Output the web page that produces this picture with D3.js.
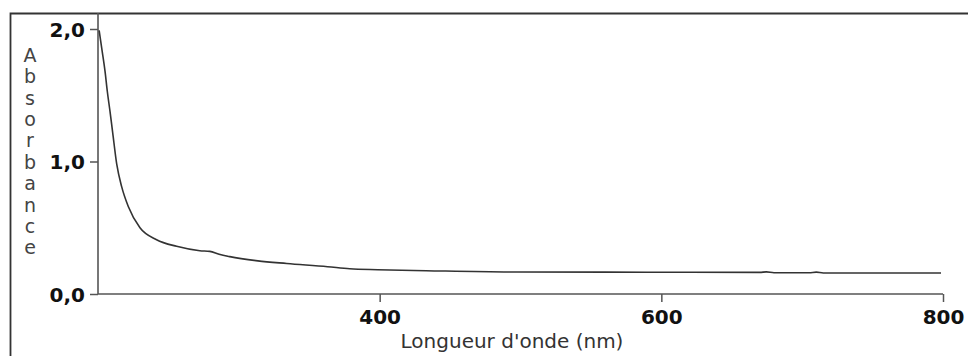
<!DOCTYPE html>
<html>
<head>
<meta charset="utf-8">
<script src="https://cdn.jsdelivr.net/npm/d3@7"></script>
<style>
  html, body { margin: 0; padding: 0; background: #fff; }
  svg { display: block; }
</style>
</head>
<body>
<svg id="chart" width="968" height="356"></svg>
<script>
// Data
const wavelengths = [200.8, 203.0, 205.0, 206.6, 208.5, 210.4, 213.3, 216.8, 221.5, 229.8, 241.6, 255.8, 272.3, 279.4, 286, 293.6, 313.5, 334, 363, 378.7, 398.6, 433, 497.9, 560, 620, 670, 674.5, 680, 705, 710, 715, 760, 798.6];
const absorbance  = [1.99, 1.83, 1.68, 1.53, 1.38, 1.22, 0.98, 0.81, 0.66, 0.50, 0.41, 0.36, 0.327, 0.322, 0.30, 0.282, 0.25, 0.23, 0.206, 0.19, 0.183, 0.176, 0.166, 0.165, 0.164, 0.163, 0.167, 0.160, 0.160, 0.165, 0.159, 0.159, 0.158];
const xTicks = [400, 600, 800];
const yTicks = [0, 1, 2];
const xTitle = "Longueur d'onde (nm)";
const yTitle = "Absorbance";

const svg = d3.select("#chart");

// frame (left + top)
svg.append("path")
  .attr("d", "M10.5,356 L10.5,13.5 L968,13.5")
  .attr("fill", "none").attr("stroke", "#333").attr("stroke-width", 1.8);

const x = d3.scaleLinear().domain([200, 800]).range([98, 943]);
const y = d3.scaleLinear().domain([0, 2]).range([294, 29]);

// axes
const xAxis = svg.append("g").attr("transform", "translate(0,294)")
  .call(d3.axisBottom(x).tickValues(xTicks).tickSize(8).tickSizeOuter(0).tickFormat(d3.format("d")));
const yAxis = svg.append("g").attr("transform", "translate(98,0)")
  .call(d3.axisLeft(y).tickValues(yTicks).tickSize(8).tickSizeOuter(0).tickFormat(d => d.toFixed(1).replace(".", ",")));

[xAxis, yAxis].forEach(g => {
  g.select(".domain").remove();
  g.selectAll(".tick line").attr("stroke", "#555").attr("stroke-width", 1.5);
  g.selectAll(".tick text").attr("fill", "#111")
    .style("font-family", "'DejaVu Sans', sans-serif").style("font-size", "20px").style("font-weight", "bold");
});
xAxis.selectAll(".tick text").attr("y", 16).attr("dy", "0.72em");
yAxis.selectAll(".tick text").attr("x", -13).attr("dy", "0.36em");

// axis lines
svg.append("line").attr("x1", 98).attr("x2", 98).attr("y1", 13).attr("y2", 294)
  .attr("stroke", "#555").attr("stroke-width", 1.6);
svg.append("line").attr("x1", 98).attr("x2", 943).attr("y1", 294).attr("y2", 294)
  .attr("stroke", "#555").attr("stroke-width", 1.6);

// curve
const data = wavelengths.map((w, i) => ({w, a: absorbance[i]}));
svg.append("path").datum(data)
  .attr("fill", "none").attr("stroke", "#333").attr("stroke-width", 1.6)
  .attr("d", d3.line().x(d => x(d.w)).y(d => y(d.a)).curve(d3.curveMonotoneX));

// axis titles
svg.append("text").attr("x", 512).attr("y", 348).attr("text-anchor", "middle")
  .attr("fill", "#333").style("font-family", "'DejaVu Sans', sans-serif").style("font-size", "20px")
  .text(xTitle);

const letters = yTitle.split("");
svg.append("g").selectAll("text").data(letters).join("text")
  .attr("x", 30).attr("y", (d, i) => 55 + i * 21.4).attr("dy", "0.36em")
  .attr("text-anchor", "middle").attr("fill", "#444")
  .style("font-family", "'DejaVu Sans', sans-serif").style("font-size", "19px")
  .text(d => d);
</script>
</body>
</html>
